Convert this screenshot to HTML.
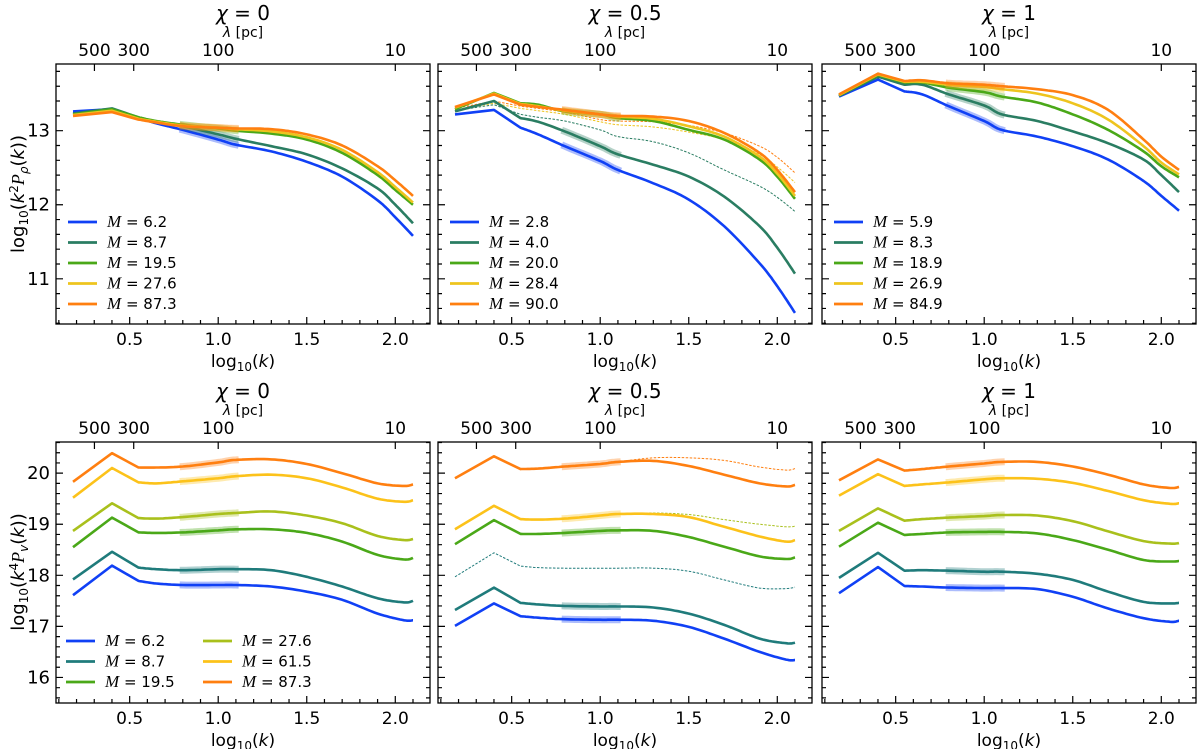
<!DOCTYPE html>
<html><head><meta charset="utf-8"><style>
body{margin:0;background:#fff}
svg text{font-family:"DejaVu Sans","Liberation Sans",sans-serif;fill:#000}
</style></head><body>
<svg id="fig" width="1200" height="749" viewBox="0 0 1200 749" xmlns="http://www.w3.org/2000/svg"></svg>
<script>
const kTop = [0.18,0.4,0.55,0.65,0.8,1.0,1.1,1.3,1.5,1.7,1.9,2.0,2.1];
const kBot = [0.18,0.4,0.55,0.65,0.8,1.0,1.1,1.3,1.5,1.7,1.9,2.05,2.1];
const xTicks = [0.5,1.0,1.5,2.0];
const lamTicks = [500,300,100,10];
const yTicksTop = [11,12,13];
const yTicksBot = [16,17,18,19,20];
const chiTitles = ["0","0.5","1"];
// top-left rho
const tl_m = ["6.2","8.7","19.5","27.6","87.3"];
const tl_blue = [13.26,13.29,13.17,13.10,13.01,12.88,12.81,12.72,12.58,12.38,12.06,11.83,11.58];
const tl_teal = [13.23,13.30,13.18,13.12,13.06,12.95,12.89,12.79,12.68,12.49,12.22,12.00,11.75];
const tl_green = [13.22,13.29,13.18,13.13,13.08,13.03,13.00,12.96,12.88,12.70,12.40,12.20,12.00];
const tl_yellow = [13.21,13.27,13.16,13.12,13.07,13.04,13.02,12.99,12.91,12.74,12.44,12.24,12.03];
const tl_orange = [13.20,13.25,13.15,13.11,13.06,13.04,13.03,13.02,12.95,12.80,12.52,12.33,12.12];
// top-middle
const tm_m = ["2.8","4.0","20.0","28.4","90.0"];
const tm_blue = [13.22,13.28,13.04,12.95,12.79,12.59,12.47,12.29,12.07,11.71,11.21,10.90,10.54];
const tm_teal = [13.26,13.40,13.17,13.12,12.99,12.79,12.68,12.54,12.38,12.11,11.71,11.42,11.07];
const tm_green = [13.29,13.51,13.37,13.35,13.26,13.22,13.17,13.13,13.01,12.88,12.61,12.38,12.08];
const tm_yellow = [13.31,13.50,13.36,13.33,13.27,13.22,13.19,13.16,13.06,12.92,12.65,12.42,12.12];
const tm_orange = [13.32,13.49,13.35,13.32,13.28,13.22,13.20,13.19,13.13,12.97,12.70,12.47,12.17];
const tm_dash_teal = [13.27,13.35,13.22,13.18,13.13,13.01,12.92,12.85,12.70,12.47,12.25,12.10,11.91];
const tm_dash_yellow = [13.28,13.37,13.30,13.27,13.22,13.12,13.08,13.05,12.98,12.88,12.68,12.51,12.30];
const tm_dash_orange = [13.30,13.40,13.33,13.30,13.25,13.15,13.13,13.12,13.07,12.97,12.79,12.64,12.43];
// top-right
const tr_m = ["5.9","8.3","18.9","26.9","84.9"];
const tr_blue = [13.46,13.69,13.53,13.49,13.33,13.13,13.01,12.92,12.79,12.61,12.32,12.12,11.92];
const tr_teal = [13.47,13.73,13.62,13.62,13.49,13.34,13.22,13.13,12.99,12.83,12.61,12.40,12.17];
const tr_green = [13.48,13.75,13.65,13.65,13.58,13.52,13.46,13.38,13.22,13.01,12.72,12.52,12.37];
const tr_yellow = [13.48,13.76,13.66,13.66,13.62,13.59,13.56,13.50,13.37,13.15,12.79,12.57,12.41];
const tr_orange = [13.49,13.77,13.67,13.68,13.64,13.62,13.60,13.56,13.48,13.28,12.88,12.65,12.47];
// bottom-left velocity
const bl_m = ["6.2","8.7","19.5","27.6","61.5","87.3"];
const bl_blue = [17.61,18.19,17.89,17.84,17.81,17.81,17.81,17.78,17.68,17.52,17.25,17.12,17.12];
const bl_teal = [17.92,18.46,18.15,18.12,18.10,18.12,18.12,18.10,17.97,17.78,17.55,17.47,17.50];
const bl_green = [18.55,19.13,18.84,18.83,18.84,18.88,18.90,18.90,18.83,18.66,18.40,18.31,18.34];
const bl_lime = [18.87,19.41,19.12,19.11,19.14,19.20,19.22,19.25,19.17,19.02,18.77,18.69,18.71];
const bl_yellow = [19.52,20.10,19.82,19.80,19.84,19.90,19.94,19.97,19.90,19.72,19.50,19.44,19.47];
const bl_orange = [19.83,20.39,20.11,20.11,20.13,20.21,20.26,20.27,20.18,20.00,19.80,19.75,19.78];
// bottom-middle
const bm_blue = [17.01,17.45,17.20,17.17,17.14,17.13,17.13,17.11,16.99,16.76,16.50,16.35,16.34];
const bm_teal = [17.32,17.76,17.46,17.43,17.40,17.39,17.39,17.37,17.25,17.03,16.76,16.67,16.68];
const bm_green = [18.61,19.08,18.81,18.81,18.83,18.87,18.88,18.87,18.75,18.56,18.37,18.32,18.35];
const bm_yellow = [18.90,19.36,19.10,19.09,19.11,19.17,19.20,19.20,19.14,18.95,18.76,18.66,18.69];
const bm_orange = [19.90,20.33,20.08,20.09,20.13,20.18,20.22,20.24,20.14,19.97,19.80,19.74,19.77];
const bm_dash_teal = [17.97,18.44,18.18,18.15,18.14,18.14,18.14,18.14,18.08,17.91,17.75,17.74,17.77];
const bm_dash_lime = [18.90,19.36,19.10,19.09,19.11,19.17,19.20,19.22,19.19,19.09,19.00,18.95,18.96];
const bm_dash_orange = [19.90,20.33,20.08,20.09,20.13,20.18,20.22,20.30,20.30,20.25,20.12,20.06,20.09];
// bottom-right
const br_blue = [17.65,18.16,17.79,17.78,17.76,17.75,17.75,17.73,17.58,17.35,17.16,17.09,17.11];
const br_teal = [17.95,18.44,18.09,18.10,18.09,18.07,18.07,18.03,17.91,17.68,17.48,17.45,17.46];
const br_green = [18.56,19.03,18.79,18.81,18.84,18.85,18.85,18.82,18.69,18.50,18.30,18.27,18.28];
const br_lime = [18.87,19.31,19.07,19.10,19.13,19.16,19.18,19.17,19.06,18.86,18.67,18.62,18.63];
const br_yellow = [19.56,19.98,19.75,19.78,19.82,19.88,19.90,19.89,19.81,19.65,19.47,19.40,19.41];
const br_orange = [19.86,20.27,20.05,20.08,20.13,20.19,20.22,20.22,20.13,19.97,19.78,19.71,19.73];

const C = {blue:"#1040f5", tealT:"#2a7d62", tealB:"#1f7b7b", green:"#4aa818", lime:"#a9c01c", yellowT:"#eec41e", yellowB:"#fcc21a", orange:"#ff7f10"};
const NS = "http://www.w3.org/2000/svg";
const svg = document.getElementById('fig');
function mk(tag, attrs, parent){
  const e = document.createElementNS(NS, tag);
  for (const k in attrs) e.setAttribute(k, attrs[k]);
  (parent||svg).appendChild(e); return e;
}
const XL = [0.084, 2.196];
function makePanel(left, top, w, h, ylim){
  return {left, top, w, h, ylim,
    x: k => left + (k - XL[0]) / (XL[1]-XL[0]) * w,
    y: v => top + h - (v - ylim[0]) / (ylim[1]-ylim[0]) * h};
}
function sample(P, ks, vs){
  const pts = ks.map((k,i)=>[P.x(k), P.y(vs[i]), k]);
  const out = [];
  for (let i=0;i<pts.length-1;i++){
    const p1 = pts[i], p2 = pts[i+1];
    if (i < 2){ out.push(p1); continue; }
    const p0 = i===2 ? p1 : pts[i-1], p3 = pts[Math.min(i+2, pts.length-1)];
    for (let t=0;t<1;t+=0.1){
      const t2=t*t, t3=t2*t;
      const f = (a,b,c,d)=>0.5*((2*b)+(-a+c)*t+(2*a-5*b+4*c-d)*t2+(-a+3*b-3*c+d)*t3);
      out.push([f(p0[0],p1[0],p2[0],p3[0]), f(p0[1],p1[1],p2[1],p3[1]), f(p0[2],p1[2],p2[2],p3[2])]);
    }
  }
  out.push(pts[pts.length-1]);
  return out;
}
function series(P, g, ks, vs, color, name, dashed){
  const pts = sample(P, ks, vs);
  const d = pts.map((p,i)=>(i?'L':'M')+p[0].toFixed(1)+' '+p[1].toFixed(1)).join(' ');
  if (!dashed){
    const band = pts.filter(p=>p[2]>=0.78 && p[2]<=1.12);
    const bd = band.map((p,i)=>(i?'L':'M')+p[0].toFixed(1)+' '+p[1].toFixed(1)).join(' ');
    const b = mk('path', {d: bd, fill:'none', stroke: color, 'stroke-width': 7, 'stroke-opacity': 0.35}, g);
    
    
  }
  const l = mk('path', {d, fill:'none', stroke: color, 'stroke-width': dashed?1:2.6, 'stroke-dasharray': dashed?'2.5 1.5':'none', 'stroke-linejoin':'round'}, g);
  
  
}
function axes(P, g, yTicks, showY, title, row){
  const {left, top, w, h} = P;
  const fr = mk('rect', {x:left, y:top, width:w, height:h, fill:'none', stroke:'#000', 'stroke-width':1.3}, g);
  
  
  let tk = '';
  for (let k=0.1;k<=2.2;k+=0.1){
    const kk = Math.round(k*10)/10;
    const x = P.x(kk); if (x < left || x > left+w) continue;
    const major = Math.abs(kk*2 - Math.round(kk*2))<1e-6;
    const L = major?7:4;
    tk += `M${x} ${top+h}v${-L}`;
  }
  lamTicks.forEach(l=>{ const x = P.x(3-Math.log10(l)); tk += `M${x} ${top}v7`; });
  for (let v=Math.ceil(P.ylim[0]*5)/5; v<=P.ylim[1]; v+=0.2){
    const vv = Math.round(v*5)/5; const y = P.y(vv);
    const L = Math.abs(vv-Math.round(vv))<1e-6?7:4;
    tk += `M${left} ${y}h${L}M${left+w} ${y}h${-L}`;
  }
  mk('path', {d:tk, stroke:'#000', 'stroke-width':1.2, fill:'none'}, g);
  xTicks.forEach(v=>{
    const t = mk('text', {x:P.x(v), y:top+h+21, 'text-anchor':'middle', 'font-size':17}, g);
    t.textContent = v.toFixed(1);
    
    
  });
  lamTicks.forEach(l=>{
    const t = mk('text', {x:P.x(3-Math.log10(l)), y:top-8, 'text-anchor':'middle', 'font-size':17}, g);
    t.textContent = l;
    
    
  });
  if (showY) yTicks.forEach(v=>{
    const t = mk('text', {x:left-6, y:P.y(v)+6, 'text-anchor':'end', 'font-size':18}, g);
    t.textContent = v;
    
    
  });
  const cx = left + w/2;
  const tt = mk('text', {x:cx, y:top-44, 'text-anchor':'middle', 'font-size':20}, g);
  tt.innerHTML = '<tspan font-style="italic">χ</tspan> = ' + title;
  
  
  const lt = mk('text', {x:cx, y:top-27, 'text-anchor':'middle', 'font-size':14}, g);
  lt.innerHTML = '<tspan font-style="italic">λ</tspan> [pc]';
  
  
  const xl = mk('text', {x:cx, y:top+h+43, 'text-anchor':'middle', 'font-size':17}, g);
  xl.innerHTML = 'log<tspan font-size="12" dy="4">10</tspan><tspan dy="-4">(</tspan><tspan font-style="italic">k</tspan>)';
  
  
}
function legend(g, x, y0, dy, items){
  items.forEach((it,i)=>{
    const y = y0 + i*dy;
    const ln = mk('line', {x1:x, x2:x+29, y1:y, y2:y, stroke:it[1], 'stroke-width':2.8}, g);
    
    
    const t = mk('text', {x:x+39, y:y+5, 'font-size':15}, g);
    t.innerHTML = '<tspan font-family="Liberation Serif" font-style="italic" font-size="17">M</tspan> =  ' + it[0];
    
    
  });
}
const lefts = [56, 438, 822], W = 374;
const topY = [10.39, 13.9], botY = [15.5, 20.61];
const topSets = [
  [[tl_blue,C.blue],[tl_teal,C.tealT],[tl_green,C.green],[tl_yellow,C.yellowT],[tl_orange,C.orange]],
  [[tm_blue,C.blue],[tm_teal,C.tealT],[tm_green,C.green],[tm_yellow,C.yellowT],[tm_orange,C.orange]],
  [[tr_blue,C.blue],[tr_teal,C.tealT],[tr_green,C.green],[tr_yellow,C.yellowT],[tr_orange,C.orange]]];
const topNames = ['blue','teal','green','yellow','orange'];
const topM = [tl_m, tm_m, tr_m];
const botSets = [
  [[bl_blue,C.blue],[bl_teal,C.tealB],[bl_green,C.green],[bl_lime,C.lime],[bl_yellow,C.yellowB],[bl_orange,C.orange]],
  [[bm_blue,C.blue],[bm_teal,C.tealB],[bm_green,C.green],[bm_yellow,C.yellowB],[bm_orange,C.orange]],
  [[br_blue,C.blue],[br_teal,C.tealB],[br_green,C.green],[br_lime,C.lime],[br_yellow,C.yellowB],[br_orange,C.orange]]];
for (let p=0;p<3;p++){
  const g = mk('g', {});
  
  
  const P = makePanel(lefts[p], 64, W, 260, topY);
  if (p===1){
    series(P, g, kTop, tm_dash_teal, C.tealT, 'dotted-teal', true);
    series(P, g, kTop, tm_dash_yellow, C.yellowT, 'dotted-yellow', true);
    series(P, g, kTop, tm_dash_orange, C.orange, 'dotted-orange', true);
  }
  topSets[p].forEach((s,i)=>series(P, g, kTop, s[0], s[1], 'curve-' + topNames[i], false));
  axes(P, g, yTicksTop, p===0, chiTitles[p], 0);
  legend(g, lefts[p]+12, 222, 20.5, topM[p].map((m,i)=>[m, topSets[p][i][1]]));
}
for (let p=0;p<3;p++){
  const g = mk('g', {});
  
  
  const P = makePanel(lefts[p], 442, W, 261, botY);
  if (p===1){
    series(P, g, kBot, bm_dash_teal, C.tealB, 'dotted-teal', true);
    series(P, g, kBot, bm_dash_lime, C.lime, 'dotted-lime', true);
    series(P, g, kBot, bm_dash_orange, C.orange, 'dotted-orange', true);
  }
  botSets[p].forEach((s,i)=>series(P, g, kBot, s[0], s[1], 'velocity-curve-' + i, false));
  axes(P, g, yTicksBot, p===0, chiTitles[p], 1);
  if (p===0){
    legend(g, 66, 641, 20.5, [[bl_m[0],C.blue],[bl_m[1],C.tealB],[bl_m[2],C.green]]);
    legend(g, 203, 641, 20.5, [[bl_m[3],C.lime],[bl_m[4],C.yellowB],[bl_m[5],C.orange]]);
  }
}
const yl1 = mk('text', {x:0, y:0, 'text-anchor':'middle', 'font-size':18, transform:'translate(24,194) rotate(-90)'});
yl1.innerHTML = 'log<tspan font-size="12" dy="4">10</tspan><tspan dy="-4">(</tspan><tspan font-style="italic">k</tspan><tspan font-size="12" dy="-6">2</tspan><tspan dy="6" font-family="Liberation Serif" font-style="italic">P</tspan><tspan font-size="12" dy="4" font-style="italic">ρ</tspan><tspan dy="-4">(</tspan><tspan font-style="italic">k</tspan>))';


const yl2 = mk('text', {x:0, y:0, 'text-anchor':'middle', 'font-size':18, transform:'translate(24,572) rotate(-90)'});
yl2.innerHTML = 'log<tspan font-size="12" dy="4">10</tspan><tspan dy="-4">(</tspan><tspan font-style="italic">k</tspan><tspan font-size="12" dy="-6">4</tspan><tspan dy="6" font-family="Liberation Serif" font-style="italic">P</tspan><tspan font-size="12" dy="4" font-style="italic">v</tspan><tspan dy="-4">(</tspan><tspan font-style="italic">k</tspan>))';


</script>
</body></html>
